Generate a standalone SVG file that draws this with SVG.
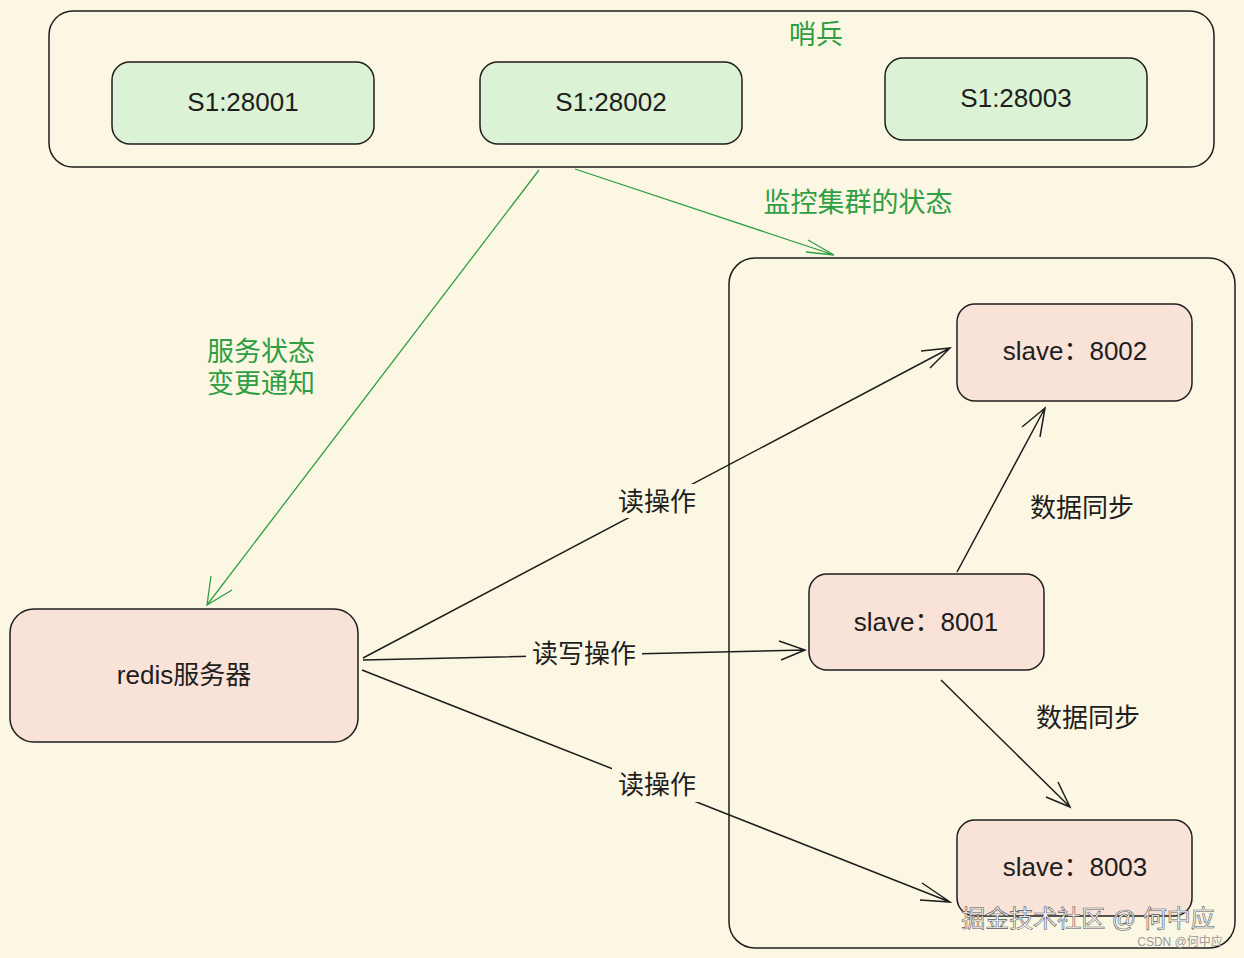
<svg xmlns="http://www.w3.org/2000/svg" width="1244" height="958" viewBox="0 0 1244 958">
<defs>
<style>
.box{fill:none;stroke:#1e1e1e;stroke-width:1.5}
.g{fill:#dcf2d4;stroke:#1e1e1e;stroke-width:1.5}
.p{fill:#f9e2d8;stroke:#1e1e1e;stroke-width:1.5}
.t{font-family:"Liberation Sans","Noto Sans CJK SC",sans-serif;font-size:26px;fill:#1e1e1e;text-anchor:middle}
.gt{font-family:"Liberation Sans","Noto Sans CJK SC",sans-serif;font-size:27px;fill:#2f9e44;text-anchor:middle}
.k{stroke:#1e1e1e;stroke-width:1.5;fill:none}
.gl{stroke:#2f9e44;stroke-width:1.3;fill:none}
.lb{fill:#fcf7e3}
</style>
</defs>
<rect width="1244" height="958" fill="#fcf7e3"/>
<g id="sentinel-group"><rect class="box" x="49" y="11" width="1165" height="156" rx="24"/><text class="gt" x="816" y="44">哨兵</text></g>
<g id="s1"><rect class="g" x="112" y="62" width="262" height="82" rx="18"/><text class="t" x="243" y="111">S1:28001</text></g>
<g id="s2"><rect class="g" x="480" y="62" width="262" height="82" rx="18"/><text class="t" x="611" y="111">S1:28002</text></g>
<g id="s3"><rect class="g" x="885" y="58" width="262" height="82" rx="18"/><text class="t" x="1016" y="107">S1:28003</text></g>
<g id="cluster"><rect class="box" x="729" y="258" width="506" height="690" rx="26"/></g>
<g id="redis"><rect class="p" x="10" y="609" width="348" height="133" rx="24"/><text class="t" x="184" y="684">redis服务器</text></g>
<g id="slave8002"><rect class="p" x="957" y="304" width="235" height="97" rx="18"/><text class="t" x="1075" y="360">slave：8002</text></g>
<g id="slave8001"><rect class="p" x="809" y="574" width="235" height="96" rx="18"/><text class="t" x="926" y="631">slave：8001</text></g>
<g id="slave8003"><rect class="p" x="957" y="820" width="235" height="96" rx="18"/><text class="t" x="1075" y="876">slave：8003</text></g>
<g id="connectors">
<path class="gl" d="M575 169 L834 255 M808 240 L834 255 L806 252"/>
<path class="gl" d="M539 170 L207 605 M211 576 L207 605 L232 590"/>
<path class="k" d="M363 658 L950 348 M921 351 L950 348 L930 368"/>
<path class="k" d="M363 660 L805 650 M779 641 L805 650 L781 660"/>
<path class="k" d="M362 670 L950 902 M922 883 L950 902 L920 900"/>
<path class="k" d="M957 572 L1045 408 M1022 427 L1045 408 L1040 437"/>
<path class="k" d="M941 680 L1070 807 M1046 797 L1070 807 L1058 782"/>
<rect class="lb" x="612" y="484" width="90" height="34"/><text class="t" x="657" y="511">读操作</text>
<rect class="lb" x="526" y="638" width="116" height="32"/><text class="t" x="584" y="663">读写操作</text>
<rect class="lb" x="612" y="768" width="90" height="34"/><text class="t" x="657" y="794">读操作</text>
<text class="t" x="1082" y="517">数据同步</text>
<text class="t" x="1088" y="727">数据同步</text>
<text class="gt" x="858" y="212">监控集群的状态</text>
<text class="gt" x="261" y="361">服务状态</text>
<text class="gt" x="261" y="393">变更通知</text>
</g>
<text x="1088" y="927" font-family="Liberation Sans,Noto Sans CJK SC,sans-serif" font-size="24" fill="#ffffff" stroke="#555" stroke-width="0.6" text-anchor="middle">掘金技术社区 @ 何中应</text>
<text x="1180" y="946" font-family="Liberation Sans,Noto Sans CJK SC,sans-serif" font-size="12" fill="#999" text-anchor="middle">CSDN @何中应</text>
</svg>
